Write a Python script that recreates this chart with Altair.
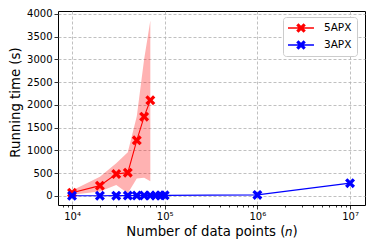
import math
import altair as alt
import pandas as pd

# ---------------- data ----------------
n_5apx = [1e4, 2e4, 3e4, 4e4, 5e4, 6e4, 7e4]
t_5apx = [70, 225, 480, 510, 1220, 1740, 2100]
lo_5apx = [25, 95, 240, 60, 380, 400, 320]
hi_5apx = [120, 420, 715, 960, 1750, 3000, 3850]

n_3apx = [1e4, 2e4, 3e4, 4e4, 5e4, 6e4, 7e4, 8e4, 9e4, 1e5, 1e6, 1e7]
t_3apx = [3, 4, 5, 6, 7, 8, 9, 10, 11, 12, 22, 280]

series = ["5APX", "3APX"]
colors = ["#ff0000", "#0000ff"]

x_major = [1e4, 1e5, 1e6, 1e7]
x_minor = [m * 10 ** k for k in range(3, 7) for m in range(2, 10)
           if 7060 <= m * 10 ** k <= 1.45e7]
y_ticks = list(range(0, 4001, 500))

df5 = pd.DataFrame({"n": n_5apx, "t": t_5apx, "lo": lo_5apx, "hi": hi_5apx, "s": "5APX"})
df3 = pd.DataFrame({"n": n_3apx, "t": t_3apx, "s": "3APX"})

FONT = "DejaVu Sans"


def x_path(w, half, cx=0.0):
    s = half / ((1 + w) / math.sqrt(2))
    pts = [(-w, -1), (w, -1), (w, -w), (1, -w), (1, w), (w, w), (w, 1), (-w, 1),
           (-w, w), (-1, w), (-1, -w), (-w, -w)]
    rot = [((x - y) / math.sqrt(2) * s + cx, (x + y) / math.sqrt(2) * s) for x, y in pts]
    return "M" + "L".join(f"{x:.3f},{y:.3f}" for x, y in rot) + "Z"


marker_path = x_path(0.3, 1.0)
# legend symbol: unit = 6px (symbolSize 144); line from -1 to 3.33, X centred at 1.17
legend_path = "M-1,-0.12L3.33,-0.12L3.33,0.12L-1,0.12Z" + x_path(0.3, 0.8, 1.17)

xscale = alt.Scale(type="log", domain=[7060, 1.45e7], nice=False)
yscale = alt.Scale(domain=[-200, 4060], nice=False, zero=False)
cscale = alt.Scale(domain=series, range=colors)

legend = alt.Legend(
    title=None, orient="none", legendX=225, legendY=6,
    symbolType=legend_path, symbolSize=144, symbolStrokeWidth=0,
    labelFont=FONT, labelFontSize=10.5, labelColor="#000000", labelOffset=24,
    padding=5, rowPadding=5, strokeColor="#cccccc", fillColor="#ffffff",
    cornerRadius=3,
)

x_main_axis = alt.Axis(
    values=x_major,
    labelExpr="datum.value == 10000 ? '10⁴' : datum.value == 100000 ? '10⁵' : "
              "datum.value == 1000000 ? '10⁶' : '10⁷'",
    title="Number of data points (𝑛)",
    orient="bottom",
    grid=True, domain=False, tickSize=4, labelPadding=2, titlePadding=3,
)
x_minor_axis = alt.Axis(
    values=x_minor, labels=False, grid=False, domain=False, tickSize=2,
    title=None, orient="bottom",
)
y_axis = alt.Axis(values=y_ticks, format="d", title="Running time (s)", grid=True,
                  domain=False, tickSize=4, labelPadding=2, titlePadding=4, titleY=91)

y_enc = alt.Y("t:Q", scale=yscale, axis=y_axis)
c_enc = alt.Color("s:N", scale=cscale, legend=legend)

band = alt.Chart(df5).mark_area(color="#ff0000", opacity=0.3).encode(
    x=alt.X("n:Q", scale=xscale, axis=x_main_axis),
    y=alt.Y("lo:Q", scale=yscale, axis=y_axis),
    y2="hi:Q",
)

line5 = alt.Chart(df5).mark_line(strokeWidth=1.1).encode(
    x=alt.X("n:Q", scale=xscale, axis=None),
    y=y_enc,
    color=c_enc,
)
pts5 = alt.Chart(df5).mark_point(shape=marker_path, filled=True, size=100, opacity=1).encode(
    x=alt.X("n:Q", scale=xscale, axis=None),
    y=y_enc,
    color=c_enc,
)
line3 = alt.Chart(df3).mark_line(strokeWidth=1.1).encode(
    x=alt.X("n:Q", scale=xscale, axis=x_minor_axis),
    y=y_enc,
    color=c_enc,
)
pts3 = alt.Chart(df3).mark_point(shape=marker_path, filled=True, size=100, opacity=1).encode(
    x=alt.X("n:Q", scale=xscale, axis=None),
    y=y_enc,
    color=c_enc,
)

chart = alt.layer(band, line5, pts5, line3, pts3).resolve_axis(x="independent").properties(
    width=307, height=194,
    autosize=alt.AutoSizeParams(type="none"),
    padding={"left": 50, "top": 3, "right": 1, "bottom": 36},
).configure_view(
    stroke="#000000", strokeWidth=1,
).configure_axis(
    labelFont=FONT, titleFont=FONT, labelFontSize=10, titleFontSize=13.3,
    titleFontWeight="normal", labelColor="#000000", titleColor="#000000",
    tickColor="#000000", tickWidth=0.8,
    gridColor="#b0b0b0", gridDash=[3, 2], gridWidth=0.8,
)

chart.save("out.html", embed_options={"renderer": "svg", "actions": False})
